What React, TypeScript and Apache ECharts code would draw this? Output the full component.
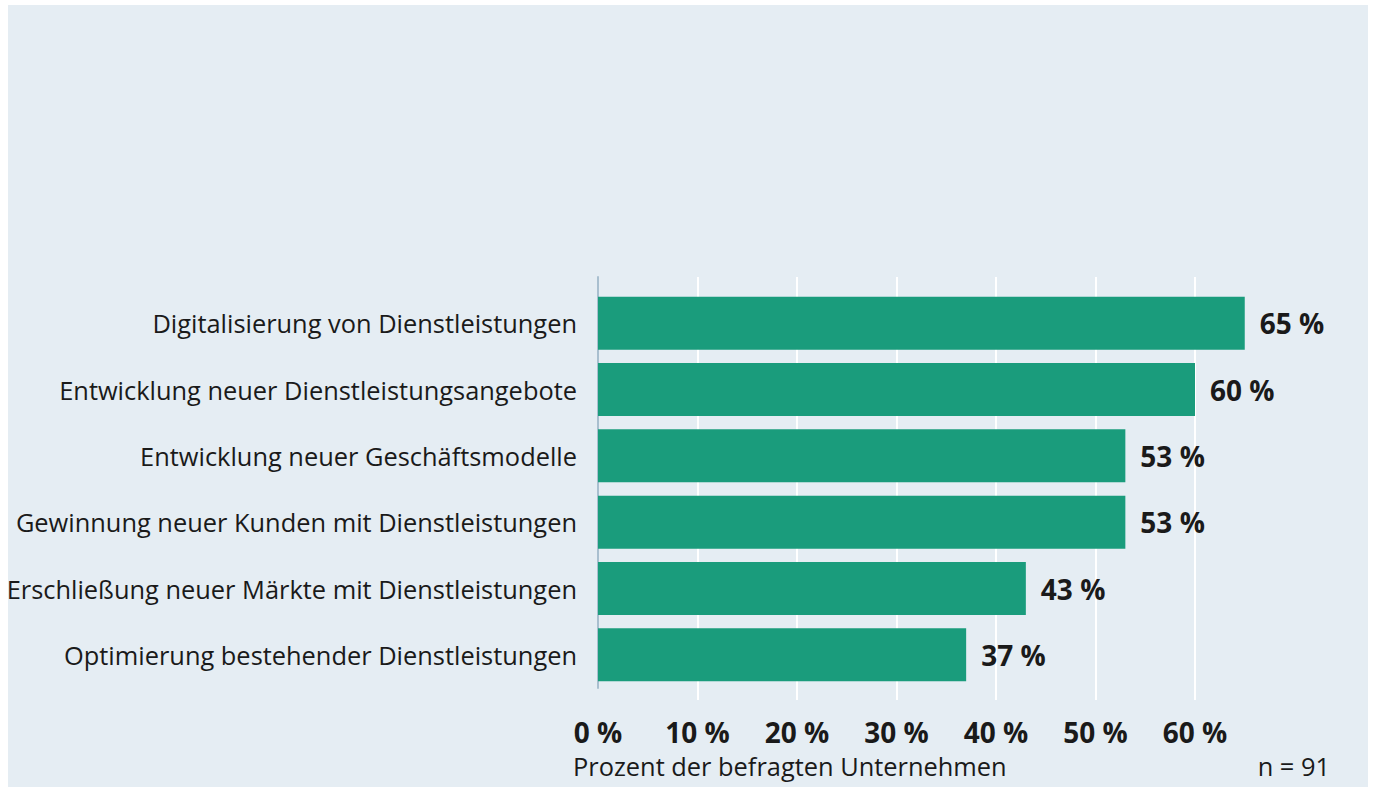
import React, { useEffect, useRef } from "react";
import * as echarts from "echarts";

const categories = [
  "Digitalisierung von Dienstleistungen",
  "Entwicklung neuer Dienstleistungsangebote",
  "Entwicklung neuer Geschäftsmodelle",
  "Gewinnung neuer Kunden mit Dienstleistungen",
  "Erschließung neuer Märkte mit Dienstleistungen",
  "Optimierung bestehender Dienstleistungen",
];
const values = [65, 60, 53, 53, 43, 37];
const xTicks = [0, 10, 20, 30, 40, 50, 60];
const axisTitle = "Prozent der befragten Unternehmen";
const sampleNote = "n = 91";

const FONT = "'Open Sans', 'Noto Sans', sans-serif";
const BAR = "#1a9c7c";
const BG = "#e5edf3";
const TEXT = "#1a1a1a";

export default function App() {
  const ref = useRef<HTMLDivElement>(null);
  useEffect(() => {
    if (!ref.current) return;
    const chart = echarts.init(ref.current, undefined, { renderer: "svg" });
    chart.setOption({
      animation: false,
      backgroundColor: BG,
      textStyle: { fontFamily: FONT },
      title: [
        {
          text: axisTitle,
          left: 565,
          top: 748,
          padding: 0,
          textStyle: { fontFamily: FONT, fontSize: 25.4, fontWeight: "normal", color: TEXT },
        },
        {
          text: sampleNote,
          right: 38,
          top: 748,
          padding: 0,
          textStyle: { fontFamily: FONT, fontSize: 25.4, fontWeight: "normal", color: TEXT },
        },
      ],
      grid: [
        { left: 590, top: 285, width: 597, height: 398, containLabel: false, outerBoundsMode: "none" },
        { left: 590, top: 272, width: 597, height: 423, containLabel: false, outerBoundsMode: "none" },
        { left: 590, top: 272, width: 597, height: 411, containLabel: false, outerBoundsMode: "none" },
      ],
      xAxis: [
        {
          type: "value",
          gridIndex: 0,
          min: 0,
          max: 60,
          interval: 10,
          axisLine: { show: false },
          splitLine: { show: false },
          axisTick: { show: false },
          axisLabel: {
            customValues: xTicks,
            formatter: (v: number) => `${v} %`,
            fontFamily: FONT,
            fontSize: 28,
            fontWeight: "bold",
            color: TEXT,
            margin: 30,
          },
        },
        {
          type: "value",
          gridIndex: 1,
          min: 0,
          max: 60,
          interval: 10,
          axisLine: { show: false },
          axisTick: { show: false },
          axisLabel: { show: false },
          splitLine: { show: true, showMinLine: false, lineStyle: { color: "#ffffff", width: 2 } },
        },
        {
          type: "value",
          gridIndex: 2,
          min: 0,
          max: 60,
          show: false,
        },
      ],
      yAxis: [
        {
          type: "category",
          gridIndex: 0,
          inverse: true,
          data: categories,
          axisLine: { show: false },
          axisTick: { show: false },
          axisLabel: {
            fontFamily: FONT,
            fontSize: 25.4,
            color: TEXT,
            margin: 21,
          },
        },
        {
          type: "value",
          gridIndex: 1,
          min: 0,
          max: 1,
          axisLine: { show: false },
          axisTick: { show: false },
          axisLabel: { show: false },
          splitLine: { show: false },
        },
        {
          type: "value",
          gridIndex: 2,
          min: 0,
          max: 1,
          axisLine: { show: true, lineStyle: { color: "#a9bfcf", width: 2 } },
          axisTick: { show: false },
          axisLabel: { show: false },
          splitLine: { show: false },
        },
      ],
      series: [
        {
          type: "bar",
          xAxisIndex: 0,
          yAxisIndex: 0,
          data: values,
          barWidth: 53,
          clip: false,
          itemStyle: { color: BAR },
          label: {
            show: true,
            position: "right",
            distance: 15,
            formatter: (p: any) => `${p.value} %`,
            fontFamily: FONT,
            fontSize: 28,
            fontWeight: "bold",
            color: TEXT,
          },
        },
      ],
    });
    return () => chart.dispose();
  }, []);
  return (
    <div
      style={{
        position: "absolute",
        left: 8,
        top: 5,
        width: 1360,
        height: 782,
      }}
      ref={ref}
    />
  );
}
